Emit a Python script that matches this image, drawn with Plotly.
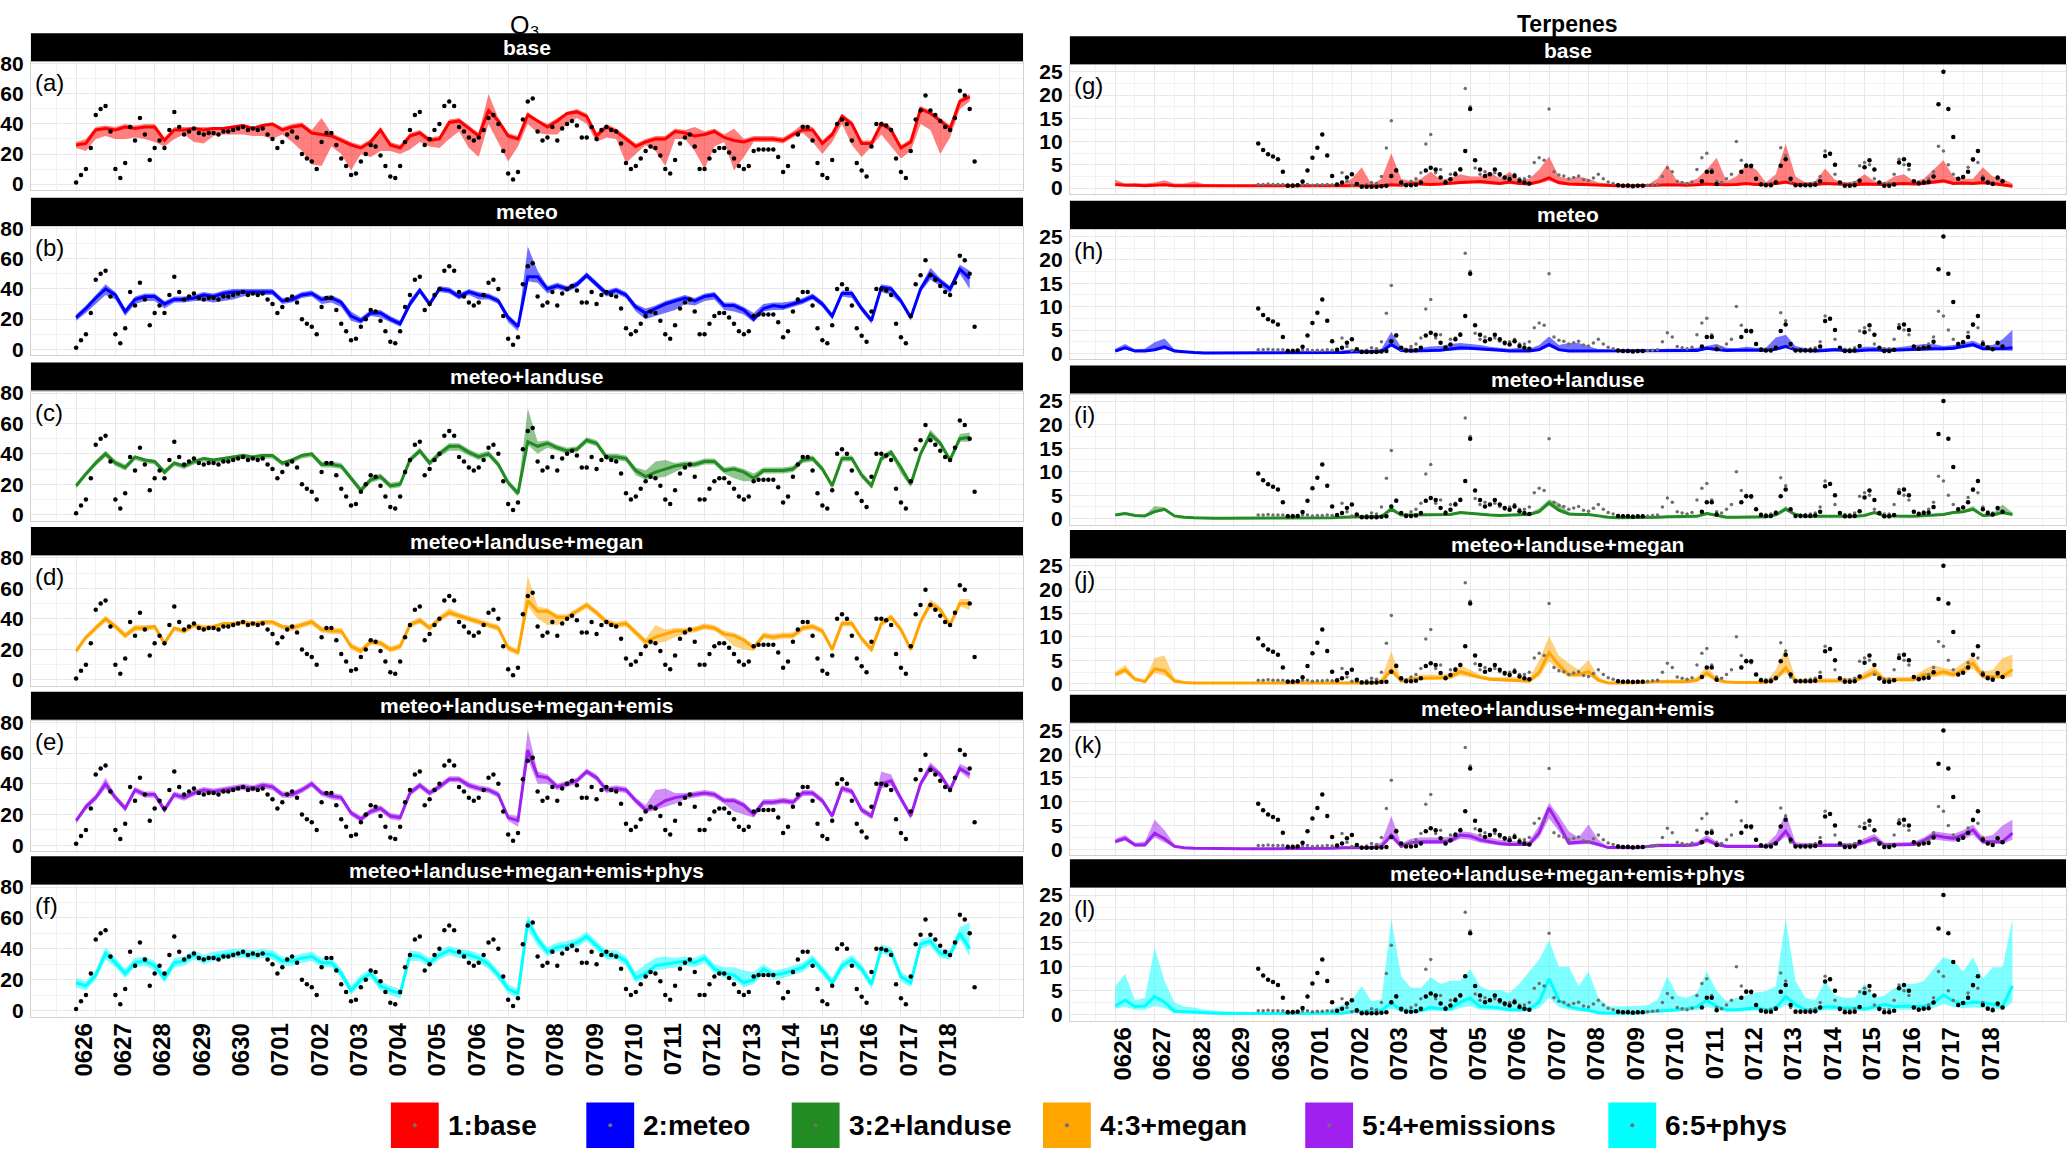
import plotly.graph_objects as go
import pandas as pd

W, H = 2067, 1154

# ---------------- observations (every 3 h from 0626 00:00) ----------------
o3_obs = [
    1, 6, 10, 24, 46, 50, 52, 35, 10, 4, 14, 38, 29, 44, 33, 16,
    24, 29, 24, 36, 48, 38, 33, 35, 37, 34, 33, 34, 34, 33, 35, 35,
    36, 37, 38, 36, 37, 36, 37, 33, 30, 24, 28, 33, 35, 31, 20, 17,
    15, 10, 28, 34, 34, 26, 17, 12, 6, 7, 15, 20, 26, 25, 19, 12,
    5, 4, 12, 28, 36, 46, 48, 26, 30, 36, 40, 52, 55, 52, 38, 35,
    31, 29, 31, 36, 44, 46, 40, 22, 7, 3, 8, 43, 55, 57, 35, 29,
    31, 38, 29, 37, 40, 42, 39, 31, 31, 38, 30, 36, 38, 36, 35, 27,
    14, 10, 12, 17, 22, 25, 24, 19, 10, 7, 16, 27, 31, 33, 25, 10,
    10, 17, 22, 24, 24, 21, 17, 12, 10, 12, 22, 23, 23, 23, 23, 18,
    8, 12, 25, 33, 38, 38, 29, 14, 6, 4, 16, 40, 43, 40, 29, 14,
    9, 5, 25, 40, 40, 39, 36, 17, 8, 4, 22, 43, 49, 59, 49, 46,
    42, 38, 36, 44, 62, 59, 50, 15,
]
N = None
terp_obs = [
    N, N, N, N, N, N, N, N, N, N, N, N, N, N, N, N,
    N, N, N, N, N, N, N, N, N, N, N, N, N, 9.6, 8.2, 7.3,
    6.8, 6.2, 3.5, 0.5, 0.5, 0.6, 1.4, 3.8, 6.5, 8.7, 11.5, 7.0, 2.6, 0.8, 1.2, 2.3,
    3.0, 0.9, 0.3, 0.3, 0.3, 0.3, 0.4, 0.5, 2.6, 3.8, 1.2, 0.6, 0.6, 0.7, 1.2, 3.8,
    4.4, 4.0, 2.3, 1.2, 1.9, 3.0, 4.0, 8.0, 17.0, 6.0, 4.0, 2.6, 3.0, 4.0, 3.0, 2.3,
    1.9, 2.6, 1.6, 1.2, 1.0, N, N, N, N, N, N, N, N, N, N, N,
    N, N, N, N, N, N, 0.6, 0.5, 0.5, 0.4, 0.5, 0.5, N, N, N, N,
    N, N, N, N, N, N, N, 1.5, 3.5, 3.5, 0.9, N, N, N, N, 3.5,
    4.8, 4.8, 2.0, 0.8, 0.6, 0.6, 1.2, 4.8, 6.2, 2.0, 0.6, 0.6, 0.6, 0.6, 0.7, 1.5,
    6.9, 7.4, 5.0, 1.2, 0.5, 0.5, 0.6, 1.6, 4.5, 6.0, 4.0, 1.2, 0.5, 0.5, 0.8, 5.5,
    6.2, 5.0, 1.5, 1.0, 1.2, 1.3, 2.5, 18.0, 25.0, 17.0, 11.0, 2.0, 2.4, 3.5, 6.2, 8.0,
    2.0, 1.2, 0.9, 2.3, 1.5, N, N, N,
]
terp_obs2 = [
    N, N, N, N, N, N, N, N, N, N, N, N, N, N, N, N,
    N, N, N, N, N, N, N, N, N, N, N, N, N, 0.8, 0.8, 0.9,
    0.8, 0.8, 0.8, 0.7, 0.7, 0.7, 0.8, 0.8, 0.6, 0.7, 0.7, 0.8, 0.7, 0.7, 3.3, 1.5,
    0.6, 0.6, 0.5, 0.7, 1.2, 1.0, 2.5, 8.6, 14.5, 4.0, 0.9, 0.9, 1.5, 2.0, 3.3, 9.5,
    11.5, 3.3, 4.0, 1.5, 3.0, 3.3, 4.2, 21.4, 17.5, 4.3, 3.0, 3.5, 3.0, 3.3, 2.6, 2.0,
    2.5, 3.0, 2.0, 2.0, 2.5, 5.5, 6.5, 6.0, 17.0, 3.5, 2.8, 2.6, 2.0, 2.3, 2.6, 1.8,
    1.6, 2.2, 3.0, 2.0, 1.3, 1.0, 0.7, 0.6, 0.7, 0.6, 0.6, 0.6, 0.6, 0.7, 0.8, 2.5,
    4.4, 3.5, 1.5, 1.2, 1.0, 1.3, 4.0, 6.5, 7.5, 4.0, 1.5, 1.2, 2.0, 3.0, 10.0, 6.0,
    5.0, 4.5, 2.0, 1.0, 0.9, 1.0, 1.5, 8.7, 7.0, 1.5, 0.8, 0.8, 0.9, 1.0, 1.2, 2.5,
    8.0, 7.5, 3.0, 1.0, 0.9, 0.9, 1.2, 4.8, 5.5, 5.0, 2.0, 1.0, 1.0, 1.0, 3.0, 6.2,
    5.0, 4.0, 1.5, 1.2, 1.5, 2.0, 3.5, 9.0, 8.0, 5.0, 3.0, 2.0, 2.5, 4.5, 6.0, 5.5,
    2.5, 1.5, 1.2, 2.0, N, N, N, N,
]

# ---------------- O3 model runs (every 6 h): central run, ensemble min, max ----------------
o3_a = [26, 27, 36, 37, 36, 38, 37, 38, 38, 29, 36, 36, 37, 36, 37, 37,
        38, 39, 37, 39, 40, 36, 38, 39, 34, 33, 32, 29, 26, 24, 28, 36,
        26, 24, 32, 34, 29, 30, 41, 42, 37, 32, 49, 42, 32, 30, 46, 42,
        38, 42, 47, 48, 45, 32, 38, 35, 30, 25, 28, 30, 30, 35, 34, 32,
        33, 35, 31, 29, 28, 30, 30, 30, 29, 33, 36, 36, 27, 33, 45, 40,
        27, 27, 40, 36, 24, 28, 50, 47, 42, 37, 55, 58]
o3_a_lo = [24, 22, 30, 32, 30, 30, 31, 30, 28, 25, 30, 33, 28, 27, 32, 33,
           33, 33, 32, 32, 30, 33, 28, 22, 13, 12, 25, 20, 9, 20, 18, 22,
           22, 20, 23, 28, 25, 24, 30, 35, 24, 18, 40, 28, 15, 25, 40, 34,
           33, 33, 40, 44, 40, 28, 31, 30, 14, 20, 26, 22, 12, 30, 30, 22,
           10, 25, 28, 9, 18, 28, 28, 28, 27, 31, 34, 28, 20, 28, 40, 26,
           18, 25, 33, 25, 17, 22, 40, 36, 20, 31, 50, 55]
o3_a_hi = [28, 30, 38, 39, 38, 40, 39, 40, 40, 31, 38, 38, 38, 38, 38, 38,
           39, 40, 38, 40, 41, 38, 40, 41, 36, 44, 34, 31, 28, 26, 30, 38,
           28, 26, 34, 36, 31, 32, 43, 44, 39, 34, 60, 44, 34, 32, 48, 43,
           40, 44, 48, 50, 47, 34, 40, 37, 32, 27, 30, 32, 32, 37, 36, 38,
           35, 37, 33, 37, 30, 32, 32, 32, 31, 35, 40, 38, 29, 35, 47, 42,
           29, 29, 42, 38, 26, 30, 52, 49, 44, 39, 57, 60]

o3_b = [21, 27, 34, 40, 36, 25, 33, 35, 35, 30, 33, 33, 34, 36, 35, 37,
        38, 38, 38, 38, 38, 32, 33, 36, 37, 33, 34, 31, 22, 19, 24, 24,
        20, 17, 30, 39, 30, 40, 39, 35, 38, 36, 35, 32, 21, 15, 48, 48,
        40, 42, 40, 43, 49, 43, 37, 39, 36, 28, 24, 27, 30, 32, 34, 32,
        35, 36, 29, 29, 26, 20, 27, 29, 28, 30, 32, 35, 30, 22, 37, 37,
        27, 19, 41, 40, 32, 21, 40, 50, 45, 40, 53, 47]
o3_b_lo = [19, 24, 30, 36, 33, 22, 30, 32, 32, 27, 31, 31, 32, 32, 31, 32,
           33, 35, 36, 36, 36, 30, 31, 34, 35, 30, 31, 28, 19, 17, 22, 21,
           18, 15, 28, 37, 28, 38, 37, 33, 36, 33, 33, 30, 18, 12, 45, 44,
           37, 40, 38, 41, 47, 41, 35, 37, 34, 25, 20, 22, 24, 26, 30, 29,
           32, 33, 26, 25, 23, 18, 25, 26, 26, 28, 30, 33, 28, 20, 35, 34,
           25, 17, 38, 36, 30, 19, 38, 46, 42, 37, 50, 40]
o3_b_hi = [23, 29, 36, 43, 38, 27, 35, 37, 37, 32, 35, 35, 36, 38, 37, 39,
           40, 40, 40, 40, 40, 34, 35, 38, 39, 35, 36, 33, 25, 21, 26, 26,
           22, 19, 33, 41, 32, 42, 41, 37, 40, 38, 37, 34, 23, 17, 68, 52,
           42, 44, 42, 45, 51, 45, 39, 41, 38, 30, 27, 29, 32, 34, 36, 34,
           37, 38, 31, 31, 28, 24, 30, 31, 31, 32, 34, 37, 32, 24, 39, 39,
           29, 21, 43, 42, 34, 23, 42, 54, 47, 42, 56, 52]

o3_c = [19, 27, 34, 40, 34, 31, 38, 36, 35, 28, 34, 32, 35, 37, 36, 37,
        38, 39, 38, 39, 39, 34, 36, 39, 40, 33, 33, 32, 24, 16, 23, 25,
        19, 20, 36, 42, 34, 40, 45, 45, 41, 38, 40, 33, 21, 14, 48, 45,
        47, 44, 42, 43, 49, 47, 38, 38, 37, 29, 25, 28, 30, 32, 33, 33,
        35, 35, 29, 30, 28, 24, 29, 29, 29, 30, 36, 37, 30, 19, 37, 37,
        26, 19, 37, 41, 31, 20, 40, 53, 47, 36, 50, 51]
o3_c_lo = [17, 25, 32, 38, 32, 29, 36, 34, 33, 26, 32, 30, 33, 35, 34, 35,
           36, 37, 36, 37, 37, 32, 34, 37, 38, 31, 31, 30, 22, 14, 21, 23,
           17, 18, 34, 40, 32, 38, 42, 42, 39, 36, 38, 31, 19, 12, 46, 40,
           44, 42, 40, 41, 47, 45, 36, 36, 35, 26, 23, 24, 25, 28, 31, 31,
           33, 33, 27, 24, 22, 22, 27, 27, 27, 28, 34, 35, 28, 17, 35, 35,
           24, 17, 35, 39, 27, 18, 38, 51, 45, 34, 48, 48]
o3_c_hi = [20, 28, 36, 42, 36, 33, 39, 37, 36, 30, 35, 33, 36, 38, 37, 38,
           39, 40, 39, 40, 40, 35, 37, 40, 41, 35, 35, 34, 26, 18, 25, 27,
           21, 22, 38, 44, 36, 42, 47, 47, 43, 40, 42, 35, 23, 16, 70, 48,
           49, 46, 44, 45, 51, 49, 40, 40, 39, 31, 29, 35, 36, 34, 35, 35,
           37, 37, 31, 32, 30, 27, 31, 31, 31, 32, 38, 39, 32, 21, 39, 39,
           28, 21, 39, 43, 33, 22, 42, 56, 49, 38, 53, 54]

o3_d = [19, 28, 34, 40, 35, 29, 34, 34, 35, 24, 34, 32, 36, 34, 35, 37,
        37, 38, 37, 38, 38, 35, 34, 36, 38, 33, 32, 32, 22, 19, 25, 24,
        20, 22, 36, 39, 34, 40, 44, 42, 40, 38, 36, 34, 21, 18, 52, 45,
        45, 41, 41, 45, 49, 44, 38, 36, 37, 31, 25, 28, 30, 32, 32, 33,
        35, 34, 30, 29, 26, 21, 29, 28, 29, 29, 34, 35, 32, 20, 37, 37,
        27, 20, 37, 41, 33, 20, 38, 50, 46, 36, 50, 50]
o3_d_lo = [17, 26, 32, 38, 33, 27, 32, 32, 33, 22, 32, 30, 34, 32, 33, 35,
           35, 36, 35, 36, 36, 33, 32, 34, 36, 31, 30, 30, 20, 17, 23, 22,
           18, 20, 34, 37, 32, 38, 42, 40, 38, 36, 34, 32, 19, 16, 48, 40,
           36, 36, 39, 43, 47, 42, 36, 34, 35, 29, 22, 24, 25, 28, 30, 31,
           33, 32, 28, 22, 20, 19, 27, 26, 27, 27, 32, 33, 30, 18, 35, 35,
           25, 18, 35, 39, 31, 18, 36, 47, 44, 34, 48, 46]
o3_d_hi = [20, 29, 36, 42, 37, 31, 36, 36, 36, 26, 35, 33, 37, 36, 36, 38,
           38, 39, 38, 39, 39, 36, 36, 38, 40, 35, 34, 34, 24, 21, 27, 26,
           22, 24, 38, 41, 36, 42, 47, 44, 42, 40, 38, 36, 23, 20, 68, 48,
           47, 43, 43, 47, 51, 46, 40, 38, 39, 33, 27, 36, 33, 34, 34, 35,
           37, 36, 32, 31, 28, 23, 31, 30, 31, 31, 36, 37, 34, 22, 39, 39,
           29, 22, 39, 43, 35, 22, 40, 53, 48, 38, 53, 53]

o3_e = [16, 25, 31, 40, 31, 24, 36, 33, 33, 23, 33, 31, 34, 36, 35, 36,
        37, 38, 37, 39, 38, 33, 33, 36, 40, 34, 32, 31, 21, 17, 22, 24,
        19, 18, 34, 39, 34, 38, 43, 43, 39, 37, 36, 33, 18, 16, 62, 45,
        44, 38, 40, 42, 48, 44, 36, 37, 36, 29, 23, 25, 29, 31, 32, 33,
        34, 33, 29, 29, 26, 20, 28, 28, 29, 28, 34, 34, 29, 19, 37, 35,
        23, 19, 40, 42, 30, 19, 40, 51, 46, 36, 50, 46]
o3_e_lo = [14, 23, 29, 37, 29, 22, 34, 31, 31, 21, 31, 29, 32, 34, 33, 34,
           35, 36, 35, 37, 36, 31, 31, 34, 38, 32, 30, 29, 19, 15, 20, 22,
           17, 16, 32, 37, 32, 36, 41, 41, 37, 35, 34, 31, 16, 12, 56, 40,
           40, 36, 38, 40, 46, 42, 34, 35, 34, 27, 21, 23, 25, 27, 30, 31,
           32, 31, 27, 22, 20, 18, 26, 26, 27, 26, 32, 32, 27, 17, 35, 33,
           21, 17, 37, 39, 28, 17, 38, 48, 44, 34, 48, 43]
o3_e_hi = [17, 27, 33, 44, 33, 26, 38, 35, 35, 25, 35, 33, 36, 38, 37, 38,
           39, 40, 39, 41, 40, 35, 35, 38, 42, 36, 34, 33, 23, 19, 24, 26,
           21, 20, 36, 41, 36, 40, 45, 45, 41, 39, 38, 35, 20, 19, 75, 48,
           46, 40, 42, 44, 50, 46, 38, 39, 38, 31, 26, 36, 37, 34, 34, 35,
           36, 35, 31, 31, 28, 22, 30, 30, 31, 30, 36, 36, 31, 21, 39, 37,
           25, 21, 48, 46, 32, 21, 42, 54, 48, 38, 53, 50]

o3_f = [18, 16, 23, 37, 31, 24, 31, 32, 29, 21, 31, 32, 36, 33, 35, 36,
        37, 37, 36, 37, 36, 32, 32, 34, 35, 31, 31, 24, 13, 20, 24, 16,
        13, 11, 36, 35, 31, 36, 39, 37, 36, 34, 30, 23, 14, 11, 58, 46,
        38, 41, 42, 44, 48, 42, 36, 36, 32, 21, 24, 29, 30, 31, 32, 31,
        34, 27, 24, 23, 18, 20, 27, 23, 24, 26, 28, 33, 26, 18, 29, 33,
        27, 17, 40, 38, 22, 18, 43, 45, 37, 36, 50, 40]
o3_f_lo = [15, 13, 20, 33, 28, 21, 28, 29, 26, 18, 28, 29, 33, 30, 32, 33,
           34, 34, 33, 34, 33, 29, 29, 31, 32, 28, 28, 21, 10, 17, 21, 13,
           10, 8, 32, 32, 28, 33, 36, 34, 33, 31, 27, 20, 11, 8, 52, 42,
           35, 38, 39, 41, 45, 39, 33, 33, 29, 18, 21, 26, 27, 28, 29, 28,
           31, 24, 21, 20, 15, 17, 24, 20, 21, 23, 25, 30, 23, 15, 26, 30,
           24, 14, 37, 35, 19, 15, 40, 42, 34, 33, 46, 35]
o3_f_hi = [21, 19, 26, 41, 34, 27, 34, 35, 32, 24, 34, 35, 39, 36, 38, 39,
           40, 40, 39, 40, 39, 35, 35, 37, 38, 34, 34, 27, 16, 23, 27, 19,
           16, 14, 39, 38, 34, 39, 42, 40, 39, 37, 33, 26, 17, 14, 62, 49,
           41, 44, 45, 47, 51, 45, 39, 39, 35, 25, 30, 34, 35, 34, 35, 34,
           37, 30, 28, 28, 26, 25, 30, 26, 27, 29, 31, 36, 29, 21, 32, 36,
           30, 20, 43, 41, 25, 21, 46, 48, 40, 39, 54, 57]

# ---------------- Terpene model runs (every 6 h) ----------------
tp_g = [0.8, 0.6, 0.6, 0.5, 0.6, 0.7, 0.5, 0.5, 0.4, 0.5, 0.4, 0.4, 0.4, 0.4, 0.4, 0.35,
        0.35, 0.35, 0.35, 0.35, 0.35, 0.35, 0.4, 0.4, 0.5, 0.5, 0.4, 0.5, 0.7, 0.6, 1.0, 0.9,
        0.8, 0.9, 1.1, 1.2, 1.3, 1.4, 1.2, 1.0, 1.3, 1.0, 0.9, 1.4, 2.2, 1.2, 0.9, 0.8,
        0.7, 0.6, 0.6, 0.5, 0.5, 0.5, 0.5, 0.6, 0.7, 0.6, 0.6, 0.7, 0.9, 0.8, 0.7, 0.8,
        1.0, 0.8, 0.8, 1.0, 1.3, 0.9, 0.8, 0.8, 1.0, 0.9, 0.7, 0.7, 0.9, 0.8, 0.8, 0.9,
        1.0, 0.9, 1.0, 1.3, 1.6, 1.0, 1.1, 1.0, 1.2, 1.0, 0.7, 0.4]
tp_g_lo = [0.5, 0.4, 0.4, 0.3, 0.4, 0.5, 0.3, 0.3, 0.3, 0.3, 0.3, 0.3, 0.3, 0.3, 0.3, 0.25,
           0.25, 0.25, 0.25, 0.25, 0.25, 0.25, 0.3, 0.3, 0.3, 0.3, 0.3, 0.3, 0.4, 0.4, 0.7, 0.6,
           0.5, 0.6, 0.8, 0.9, 1.0, 1.0, 0.8, 0.7, 0.9, 0.7, 0.6, 1.0, 1.6, 0.8, 0.6, 0.5,
           0.5, 0.4, 0.4, 0.3, 0.3, 0.3, 0.3, 0.4, 0.5, 0.4, 0.4, 0.5, 0.6, 0.5, 0.5, 0.5,
           0.7, 0.5, 0.5, 0.7, 0.9, 0.6, 0.5, 0.5, 0.7, 0.6, 0.5, 0.5, 0.6, 0.5, 0.5, 0.6,
           0.7, 0.6, 0.7, 0.9, 1.1, 0.7, 0.8, 0.7, 0.8, 0.7, 0.4, 0.2]
tp_g_hi = [1.8, 1.0, 1.1, 1.0, 1.2, 1.7, 1.0, 1.0, 1.4, 0.9, 0.8, 0.7, 0.6, 0.6, 0.6, 0.5,
           0.5, 0.5, 0.5, 0.6, 0.6, 0.6, 0.7, 0.9, 2.0, 4.5, 0.8, 2.0, 7.5, 2.0, 1.5, 2.0,
           3.5, 1.8, 2.2, 3.0, 2.5, 2.5, 3.5, 2.0, 3.5, 1.8, 2.0, 4.0, 6.8, 2.5, 2.0, 2.5,
           2.0, 1.2, 1.0, 0.8, 0.7, 0.8, 0.8, 2.0, 5.0, 1.5, 1.2, 2.0, 4.0, 6.5, 1.5, 2.5,
           5.0, 4.0, 1.2, 3.0, 9.5, 2.5, 1.2, 1.5, 4.2, 1.8, 1.2, 1.5, 3.0, 1.5, 1.2, 2.5,
           3.0, 1.5, 2.0, 4.0, 6.0, 2.5, 2.0, 2.0, 4.5, 2.5, 2.0, 1.0]

tp_h = [0.5, 1.2, 0.5, 0.5, 0.8, 1.4, 0.5, 0.3, 0.2, 0.1, 0.1, 0.1, 0.1, 0.1, 0.1, 0.1,
        0.1, 0.1, 0.1, 0.1, 0.1, 0.1, 0.1, 0.2, 0.3, 0.3, 0.3, 0.4, 1.9, 0.6, 0.5, 0.5,
        0.6, 0.7, 1.0, 1.2, 1.1, 1.0, 0.9, 0.7, 0.5, 0.5, 0.5, 0.8, 1.9, 0.8, 0.5, 0.5,
        0.5, 0.5, 0.5, 0.5, 0.5, 0.5, 0.5, 0.5, 0.5, 0.5, 0.5, 0.6, 1.1, 0.8, 0.6, 0.7,
        0.7, 0.7, 0.7, 0.9, 1.5, 0.8, 0.6, 0.5, 0.6, 0.8, 0.6, 0.5, 0.7, 0.8, 0.6, 0.7,
        0.8, 0.9, 1.0, 1.0, 1.0, 1.1, 1.5, 1.9, 1.0, 1.0, 1.0, 1.2]
tp_h_lo = [0.3, 0.9, 0.3, 0.3, 0.5, 0.9, 0.3, 0.2, 0.1, 0.05, 0.05, 0.05, 0.05, 0.05, 0.05, 0.05,
           0.05, 0.05, 0.05, 0.05, 0.05, 0.05, 0.05, 0.1, 0.2, 0.2, 0.2, 0.3, 1.4, 0.4, 0.3, 0.3,
           0.4, 0.5, 0.7, 0.8, 0.8, 0.7, 0.6, 0.5, 0.3, 0.3, 0.3, 0.5, 1.4, 0.5, 0.3, 0.3,
           0.3, 0.3, 0.3, 0.3, 0.3, 0.3, 0.3, 0.3, 0.3, 0.3, 0.3, 0.4, 0.8, 0.5, 0.4, 0.5,
           0.5, 0.5, 0.5, 0.6, 1.1, 0.5, 0.4, 0.3, 0.4, 0.5, 0.4, 0.3, 0.5, 0.5, 0.4, 0.5,
           0.5, 0.6, 0.7, 0.7, 0.7, 0.8, 1.1, 1.4, 0.7, 0.7, 0.7, 0.5]
tp_h_hi = [1.0, 2.0, 0.9, 1.0, 2.4, 3.2, 0.9, 0.5, 0.4, 0.3, 0.2, 0.2, 0.2, 0.2, 0.2, 0.2,
           0.2, 0.2, 0.2, 0.2, 0.2, 0.3, 0.4, 0.7, 0.9, 0.8, 0.8, 1.0, 4.6, 1.3, 1.0, 1.2,
           1.5, 1.6, 2.0, 2.2, 2.0, 1.8, 1.4, 1.2, 1.0, 1.2, 1.0, 1.8, 3.6, 1.8, 2.2, 2.2,
           1.5, 0.9, 0.8, 0.7, 0.8, 0.8, 0.8, 0.9, 1.0, 1.0, 1.0, 1.2, 1.6, 2.0, 1.2, 1.1,
           1.4, 1.2, 1.2, 3.4, 4.0, 1.6, 1.1, 1.0, 1.1, 1.2, 1.0, 1.0, 1.4, 1.4, 1.2, 1.2,
           1.5, 1.7, 2.0, 2.0, 1.6, 1.8, 2.2, 2.7, 1.8, 1.8, 3.0, 5.0]

tp_i = [0.8, 1.1, 0.7, 0.6, 1.5, 2.0, 0.6, 0.3, 0.2, 0.1, 0.1, 0.1, 0.1, 0.1, 0.1, 0.1,
        0.1, 0.1, 0.1, 0.1, 0.1, 0.1, 0.2, 0.3, 0.35, 0.35, 0.35, 0.5, 2.0, 0.8, 0.8, 0.8,
        0.9, 0.8, 0.9, 1.3, 1.1, 0.9, 0.8, 0.7, 0.8, 0.8, 0.9, 1.5, 3.4, 1.8, 1.0, 0.9,
        0.9, 0.6, 0.3, 0.2, 0.2, 0.2, 0.2, 0.3, 0.4, 0.4, 0.4, 0.5, 1.1, 0.7, 0.3, 0.3,
        0.3, 0.3, 0.4, 0.8, 2.0, 0.9, 0.5, 0.5, 0.5, 0.5, 0.5, 0.5, 0.7, 1.3, 0.6, 0.5,
        0.5, 0.5, 0.6, 0.8, 0.9, 1.3, 1.5, 2.0, 0.7, 0.8, 1.3, 0.9]
tp_i_lo = [0.6, 0.9, 0.5, 0.4, 1.2, 1.7, 0.4, 0.2, 0.1, 0.05, 0.05, 0.05, 0.05, 0.05, 0.05, 0.05,
           0.05, 0.05, 0.05, 0.05, 0.05, 0.05, 0.1, 0.2, 0.25, 0.25, 0.25, 0.35, 1.7, 0.6, 0.6, 0.6,
           0.7, 0.6, 0.7, 1.0, 0.9, 0.7, 0.6, 0.5, 0.6, 0.6, 0.7, 1.2, 2.8, 1.4, 0.8, 0.7,
           0.7, 0.4, 0.2, 0.1, 0.1, 0.1, 0.1, 0.2, 0.3, 0.3, 0.3, 0.35, 0.9, 0.5, 0.2, 0.2,
           0.2, 0.2, 0.3, 0.6, 1.7, 0.7, 0.35, 0.35, 0.35, 0.35, 0.35, 0.35, 0.5, 1.1, 0.4, 0.35,
           0.35, 0.35, 0.4, 0.6, 0.7, 1.1, 1.3, 1.7, 0.5, 0.6, 1.0, 0.7]
tp_i_hi = [1.0, 1.4, 0.9, 0.8, 2.7, 2.4, 0.8, 0.4, 0.3, 0.2, 0.2, 0.2, 0.2, 0.2, 0.2, 0.2,
           0.2, 0.2, 0.2, 0.2, 0.2, 0.2, 0.3, 0.4, 0.5, 0.5, 0.5, 0.7, 2.7, 1.0, 1.0, 1.0,
           1.1, 1.0, 1.1, 1.6, 1.4, 1.1, 1.0, 0.9, 1.0, 1.0, 1.2, 2.2, 4.1, 3.4, 1.3, 1.1,
           1.1, 0.8, 0.4, 0.3, 0.3, 0.3, 0.3, 0.4, 0.5, 0.5, 0.5, 0.7, 1.4, 0.9, 0.4, 0.4,
           0.4, 0.4, 0.5, 1.1, 2.7, 1.1, 0.6, 0.6, 0.6, 0.6, 0.6, 0.6, 0.9, 1.6, 0.8, 0.6,
           0.7, 0.7, 0.8, 1.0, 1.1, 1.6, 1.8, 2.7, 0.9, 1.1, 3.0, 1.3]

tp_j = [2.0, 3.0, 1.0, 0.5, 3.2, 2.8, 0.6, 0.3, 0.2, 0.2, 0.2, 0.15, 0.1, 0.05, 0.05, 0.05,
        0.05, 0.05, 0.05, 0.05, 0.05, 0.05, 0.1, 0.2, 0.2, 0.2, 0.2, 0.5, 3.0, 0.6, 1.0, 1.2,
        1.2, 1.3, 1.5, 2.6, 2.0, 1.4, 1.0, 0.9, 0.9, 0.8, 0.6, 2.5, 6.6, 4.0, 2.0, 2.0,
        2.6, 0.8, 0.2, 0.2, 0.2, 0.2, 0.3, 0.5, 0.5, 0.5, 0.5, 0.8, 2.3, 0.8, 0.4, 0.3,
        0.3, 0.3, 0.3, 1.2, 3.4, 0.6, 0.6, 0.7, 0.7, 0.7, 0.7, 0.7, 1.5, 2.6, 0.9, 0.9,
        0.9, 0.9, 2.0, 2.0, 2.6, 2.0, 3.0, 4.4, 1.6, 1.6, 1.6, 3.0]
tp_j_lo = [1.5, 2.3, 0.7, 0.3, 2.3, 1.8, 0.4, 0.2, 0.1, 0.1, 0.1, 0.1, 0.05, 0.02, 0.02, 0.02,
           0.02, 0.02, 0.02, 0.02, 0.02, 0.02, 0.05, 0.1, 0.1, 0.1, 0.1, 0.3, 2.2, 0.4, 0.7, 0.8,
           0.8, 0.9, 1.0, 1.8, 1.4, 1.0, 0.7, 0.6, 0.6, 0.5, 0.4, 1.6, 4.8, 2.8, 1.4, 1.4,
           1.8, 0.5, 0.1, 0.1, 0.1, 0.1, 0.2, 0.3, 0.3, 0.3, 0.3, 0.5, 1.6, 0.5, 0.2, 0.2,
           0.2, 0.2, 0.2, 0.8, 2.4, 0.4, 0.4, 0.5, 0.5, 0.5, 0.5, 0.5, 1.0, 1.8, 0.6, 0.6,
           0.6, 0.6, 1.4, 1.4, 1.8, 1.4, 2.2, 3.2, 1.1, 1.1, 1.1, 1.6]
tp_j_hi = [2.6, 4.0, 1.5, 0.9, 5.5, 6.0, 1.2, 0.5, 0.3, 0.3, 0.3, 0.2, 0.15, 0.1, 0.1, 0.1,
           0.1, 0.1, 0.1, 0.1, 0.1, 0.1, 0.2, 0.4, 0.5, 0.4, 0.5, 1.2, 6.9, 1.0, 1.5, 2.0,
           2.0, 2.0, 2.2, 4.0, 3.0, 2.0, 1.5, 1.4, 1.5, 1.4, 1.2, 5.0, 10.1, 6.0, 4.4, 3.0,
           5.1, 1.5, 0.3, 0.3, 0.3, 0.4, 0.5, 0.8, 0.9, 0.9, 1.0, 1.5, 3.7, 1.3, 0.7, 0.6,
           0.6, 0.6, 0.6, 3.0, 7.6, 1.2, 1.0, 1.2, 1.2, 1.2, 1.2, 1.2, 2.5, 3.8, 1.4, 1.4,
           1.5, 1.6, 3.0, 4.0, 3.4, 3.0, 4.5, 5.9, 2.6, 3.0, 5.5, 6.2]

tp_k = [1.6, 2.3, 0.9, 0.9, 3.4, 2.2, 0.6, 0.3, 0.2, 0.15, 0.1, 0.1, 0.1, 0.1, 0.1, 0.1,
        0.1, 0.1, 0.1, 0.1, 0.1, 0.1, 0.2, 0.3, 0.35, 0.35, 0.35, 0.6, 3.0, 0.6, 1.4, 1.6,
        1.6, 1.6, 1.8, 3.0, 2.8, 2.0, 1.6, 1.2, 1.0, 1.0, 1.0, 3.5, 8.7, 5.2, 1.3, 1.5,
        1.6, 1.0, 0.35, 0.35, 0.35, 0.35, 0.6, 0.8, 0.8, 0.8, 0.8, 1.0, 2.0, 1.0, 0.6, 0.6,
        0.6, 0.6, 0.6, 1.4, 3.8, 0.8, 0.8, 0.8, 0.8, 0.8, 0.8, 0.8, 1.5, 2.3, 0.9, 0.9,
        0.9, 1.0, 1.8, 3.0, 2.6, 2.3, 3.0, 4.1, 1.6, 1.6, 1.6, 3.4]
tp_k_lo = [1.2, 1.8, 0.6, 0.6, 2.5, 1.5, 0.4, 0.2, 0.1, 0.1, 0.05, 0.05, 0.05, 0.05, 0.05, 0.05,
           0.05, 0.05, 0.05, 0.05, 0.05, 0.05, 0.1, 0.2, 0.2, 0.2, 0.2, 0.4, 2.2, 0.4, 1.0, 1.1,
           1.1, 1.1, 1.3, 2.2, 2.0, 1.4, 1.1, 0.8, 0.7, 0.7, 0.7, 2.5, 6.5, 3.8, 0.9, 1.0,
           1.1, 0.7, 0.2, 0.2, 0.2, 0.2, 0.4, 0.5, 0.5, 0.5, 0.5, 0.7, 1.4, 0.7, 0.4, 0.4,
           0.4, 0.4, 0.4, 1.0, 2.7, 0.5, 0.5, 0.5, 0.5, 0.5, 0.5, 0.5, 1.0, 1.6, 0.6, 0.6,
           0.6, 0.7, 1.2, 2.1, 1.8, 1.6, 2.1, 3.0, 1.1, 1.1, 1.1, 2.0]
tp_k_hi = [2.2, 3.0, 1.4, 1.6, 6.2, 4.0, 1.0, 0.5, 0.3, 0.2, 0.15, 0.15, 0.15, 0.15, 0.15, 0.15,
           0.15, 0.15, 0.15, 0.15, 0.15, 0.2, 0.4, 0.6, 0.7, 0.7, 0.7, 1.5, 7.0, 1.2, 2.2, 2.5,
           2.5, 2.5, 2.7, 3.8, 3.6, 3.0, 2.4, 2.0, 1.8, 1.6, 1.8, 5.0, 9.8, 7.0, 3.8, 2.5,
           5.2, 2.0, 0.5, 0.5, 0.5, 0.6, 0.9, 1.2, 1.2, 1.2, 1.2, 1.6, 3.0, 1.6, 1.0, 1.0,
           1.0, 1.0, 1.0, 3.0, 7.7, 1.5, 1.3, 1.3, 1.3, 1.3, 1.3, 1.3, 2.3, 3.2, 1.4, 1.4,
           1.5, 1.6, 2.5, 3.8, 3.5, 3.2, 4.0, 5.2, 2.6, 3.0, 5.0, 6.2]

tp_l = [1.8, 3.0, 1.7, 1.8, 3.8, 2.6, 0.7, 0.6, 0.4, 0.3, 0.2, 0.2, 0.2, 0.2, 0.2, 0.2,
        0.2, 0.2, 0.2, 0.3, 0.3, 0.3, 0.3, 0.3, 0.6, 0.7, 0.7, 0.9, 2.4, 1.0, 0.7, 0.8,
        1.5, 1.2, 1.2, 2.6, 3.4, 1.7, 1.6, 1.4, 1.0, 1.0, 1.2, 2.6, 7.5, 3.0, 1.7, 1.2,
        0.9, 0.4, 0.3, 0.3, 0.3, 0.3, 0.6, 0.7, 0.8, 1.0, 1.3, 1.6, 3.0, 1.7, 1.0, 1.0,
        1.2, 1.4, 1.0, 1.4, 3.8, 2.1, 1.0, 1.0, 1.6, 1.6, 1.4, 1.4, 1.2, 1.6, 2.1, 1.7,
        1.7, 1.7, 1.8, 2.4, 4.1, 2.8, 2.2, 2.6, 2.5, 2.1, 1.7, 6.0]
tp_l_lo = [1.2, 1.6, 1.0, 1.0, 1.8, 1.4, 0.3, 0.2, 0.1, 0.1, 0.05, 0.05, 0.05, 0.05, 0.05, 0.05,
           0.05, 0.05, 0.05, 0.1, 0.1, 0.1, 0.1, 0.2, 0.3, 0.4, 0.4, 0.5, 1.2, 0.6, 0.4, 0.5,
           0.8, 0.7, 0.7, 1.4, 1.8, 1.0, 0.9, 0.8, 0.6, 0.6, 0.7, 1.4, 3.5, 1.6, 1.0, 0.7,
           0.5, 0.2, 0.1, 0.1, 0.1, 0.1, 0.3, 0.4, 0.5, 0.6, 0.8, 0.9, 1.6, 1.0, 0.6, 0.6,
           0.7, 0.8, 0.6, 0.8, 2.0, 1.2, 0.6, 0.6, 0.9, 0.9, 0.8, 0.8, 0.7, 0.9, 1.2, 1.0,
           1.0, 1.0, 1.0, 1.4, 2.2, 1.6, 1.3, 1.5, 1.4, 1.2, 1.0, 2.5]
tp_l_hi = [6.0, 8.5, 3.0, 3.5, 14.0, 7.0, 2.5, 1.7, 1.5, 1.0, 0.8, 0.7, 0.6, 0.5, 0.4, 0.4,
           0.4, 0.4, 0.4, 0.5, 0.6, 0.7, 1.2, 2.0, 3.0, 6.0, 2.8, 3.2, 20.0, 8.0, 5.6, 5.6,
           7.8, 6.4, 7.1, 7.1, 9.5, 6.0, 5.0, 5.2, 4.5, 6.5, 9.0, 11.5, 15.5, 10.0, 10.0, 6.0,
           9.0, 3.5, 1.7, 1.7, 1.7, 1.8, 2.0, 3.0, 8.0, 4.0, 3.5, 4.5, 9.0, 5.0, 2.8, 3.5,
           4.0, 4.6, 4.9, 6.0, 20.0, 7.0, 3.5, 3.0, 7.0, 4.0, 3.5, 3.5, 6.4, 3.5, 4.0, 5.5,
           6.4, 6.4, 7.0, 9.5, 12.0, 11.3, 9.0, 12.0, 7.5, 9.9, 9.9, 20.0]

# ---------------- categories / labels ----------------
panel_titles = ['base', 'meteo', 'meteo+landuse', 'meteo+landuse+megan',
                'meteo+landuse+megan+emis', 'meteo+landuse+megan+emis+phys']
o3_tags = ['(a)', '(b)', '(c)', '(d)', '(e)', '(f)']
tp_tags = ['(g)', '(h)', '(i)', '(j)', '(k)', '(l)']
run_names = ['1:base', '2:meteo', '3:2+landuse', '4:3+megan', '5:4+emissions', '6:5+phys']
run_colors = ['#ff0000', '#0000ff', '#228b22', '#ffa500', '#a020f0', '#00ffff']
band_colors = ['rgba(255,0,0,0.5)', 'rgba(0,0,255,0.55)', 'rgba(34,139,34,0.5)',
               'rgba(255,165,0,0.5)', 'rgba(160,32,240,0.5)', 'rgba(0,255,255,0.5)']

o3_runs = [(o3_a, o3_a_lo, o3_a_hi), (o3_b, o3_b_lo, o3_b_hi), (o3_c, o3_c_lo, o3_c_hi),
           (o3_d, o3_d_lo, o3_d_hi), (o3_e, o3_e_lo, o3_e_hi), (o3_f, o3_f_lo, o3_f_hi)]
tp_runs = [(tp_g, tp_g_lo, tp_g_hi), (tp_h, tp_h_lo, tp_h_hi), (tp_i, tp_i_lo, tp_i_hi),
           (tp_j, tp_j_lo, tp_j_hi), (tp_k, tp_k_lo, tp_k_hi), (tp_l, tp_l_lo, tp_l_hi)]

t_obs = pd.date_range('2019-06-26 00:00', periods=184, freq='3h')
t_mod = pd.date_range('2019-06-26 00:00', periods=92, freq='6h')
assert len(o3_obs) == 184 and len(terp_obs) == 184 and len(terp_obs2) == 184
for r in o3_runs + tp_runs:
    for s in r:
        assert len(s) == 92, len(s)

day_ticks = pd.date_range('2019-06-26', '2019-07-18', freq='D')
day_text = [d.strftime('%m%d') for d in day_ticks]
x_range = ['2019-06-24 20:24', '2019-07-20 02:36']

SANS = 'Liberation Sans, Arial, sans-serif'


def fx(p):
    return p / W


def fy(p):
    return 1 - p / H


fig = go.Figure()
shapes, annots = [], []
STRIP_PITCH = 166.8   # strip tops
PLOT_PITCH = 167.5    # plot bottoms
STRIP_H = 28.5
cols = [
    dict(x0=25, x1=1020, top=23.5, pbot=182.3, runs=o3_runs, tags=o3_tags,
         yr=[-3.9, 81], yt=[0, 20, 40, 60, 80], ym=10),
    dict(x0=1067, x1=2066, top=26.5, pbot=186.4, runs=tp_runs, tags=tp_tags,
         yr=[-1.26, 26.4], yt=[0, 5, 10, 15, 20, 25], ym=2.5),
]

n = 0
for c, col in enumerate(cols):
    for k in range(6):
        n += 1
        xa = 'x' if n == 1 else 'x%d' % n
        ya = 'y' if n == 1 else 'y%d' % n
        s_top = col['top'] + STRIP_PITCH * k
        s_bot = s_top + STRIP_H
        p_top = s_bot + 1
        p_bot = col['pbot'] + PLOT_PITCH * k

        line, lo, hi = col['runs'][k]
        fig.add_trace(go.Scatter(x=t_mod, y=lo, mode='lines', line=dict(width=0),
                                 xaxis=xa, yaxis=ya, showlegend=False, hoverinfo='skip'))
        fig.add_trace(go.Scatter(x=t_mod, y=hi, mode='lines', line=dict(width=0),
                                 fill='tonexty', fillcolor=band_colors[k],
                                 xaxis=xa, yaxis=ya, showlegend=False, hoverinfo='skip'))
        fig.add_trace(go.Scatter(x=t_mod, y=line, mode='lines',
                                 line=dict(color=run_colors[k], width=3),
                                 xaxis=xa, yaxis=ya, showlegend=False))
        if c == 0:
            fig.add_trace(go.Scatter(x=t_obs, y=o3_obs, mode='markers',
                                     marker=dict(color='black', size=4.5),
                                     xaxis=xa, yaxis=ya, showlegend=False))
        else:
            fig.add_trace(go.Scatter(x=t_obs, y=terp_obs2, mode='markers',
                                     marker=dict(color='#6e6e6e', size=3.5),
                                     xaxis=xa, yaxis=ya, showlegend=False))
            fig.add_trace(go.Scatter(x=t_obs, y=terp_obs, mode='markers',
                                     marker=dict(color='black', size=4.5),
                                     xaxis=xa, yaxis=ya, showlegend=False))

        bottom = (k == 5)
        fig.layout['xaxis' if n == 1 else 'xaxis%d' % n] = dict(
            domain=[fx(col['x0']), fx(col['x1'])], anchor=ya, type='date', range=x_range,
            tickmode='array', tickvals=day_ticks, ticktext=day_text,
            showticklabels=bottom, tickangle=-90, ticks='', ticklabelshift=8,
            ticklabelstandoff=-4,
            tickfont=dict(family=SANS, size=24, color='black', weight='bold'),
            showgrid=True, gridcolor='#e8e8e8', gridwidth=1.3,
            minor=dict(tickmode='linear', tick0='2019-06-26 12:00', dtick=43200000 * 2,
                       showgrid=True, gridcolor='#f2f2f2', gridwidth=1),
            showline=True, mirror=True, linecolor='#d0d0d0', linewidth=1,
            zeroline=False, fixedrange=True)
        fig.layout['yaxis' if n == 1 else 'yaxis%d' % n] = dict(
            domain=[fy(p_bot), fy(p_top)], anchor=xa, range=col['yr'],
            tickmode='array', tickvals=col['yt'], ticks='', ticklabelstandoff=2,
            tickfont=dict(family=SANS, size=21, color='black', weight='bold'),
            showgrid=True, gridcolor='#e8e8e8', gridwidth=1.3,
            minor=dict(tickmode='linear', tick0=col['ym'], dtick=col['ym'] * 2,
                       showgrid=True, gridcolor='#f2f2f2', gridwidth=1),
            showline=True, mirror=True, linecolor='#d0d0d0', linewidth=1,
            zeroline=False, fixedrange=True)

        # facet strip
        shapes.append(dict(type='rect', xref='paper', yref='paper',
                           x0=fx(col['x0']), x1=fx(col['x1']), y0=fy(s_bot), y1=fy(s_top),
                           fillcolor='black', line=dict(width=0), layer='above'))
        annots.append(dict(text=panel_titles[k], xref='paper', yref='paper',
                           x=fx((col['x0'] + col['x1']) / 2), y=fy((s_top + s_bot) / 2),
                           xanchor='center', yanchor='middle', showarrow=False,
                           font=dict(family=SANS, size=21, color='white', weight='bold')))
        annots.append(dict(text=col['tags'][k], xref='paper', yref='paper',
                           x=fx(col['x0'] + 2), y=fy(p_top + 5), xanchor='left', yanchor='top',
                           showarrow=False,
                           font=dict(family=SANS, size=24, color='black')))

# column titles above the first strips
annots.append(dict(text='O₃', xref='paper', yref='paper', x=fx(521), y=1,
                   xanchor='center', yanchor='top', showarrow=False, borderpad=0,
                   font=dict(family=SANS, size=25, color='black')))
annots.append(dict(text='Terpenes', xref='paper', yref='paper', x=fx(1566), y=1,
                   xanchor='center', yanchor='top', showarrow=False, borderpad=0,
                   font=dict(family=SANS, size=23, color='black', weight='bold')))

# legend drawn as boxes + labels
leg_x = [386, 582, 788, 1040, 1303, 1607]
for i, name in enumerate(run_names):
    x0 = leg_x[i]
    shapes.append(dict(type='rect', xref='paper', yref='paper',
                       x0=fx(x0), x1=fx(x0 + 48), y0=fy(1153), y1=fy(1107),
                       fillcolor=run_colors[i], line=dict(width=0)))
    shapes.append(dict(type='circle', xref='paper', yref='paper',
                       x0=fx(x0 + 22), x1=fx(x0 + 26), y0=fy(1132), y1=fy(1128),
                       fillcolor='#707070', line=dict(width=0)))
    annots.append(dict(text=name, xref='paper', yref='paper', x=fx(x0 + 55), y=fy(1130),
                       xanchor='left', yanchor='middle', showarrow=False,
                       font=dict(family=SANS, size=28, color='black', weight='bold')))

fig.update_layout(width=W, height=H, margin=dict(l=0, r=0, t=0, b=0),
                  paper_bgcolor='white', plot_bgcolor='white',
                  shapes=shapes, annotations=annots, showlegend=False)
# the page's default 8px body margin is dropped so the figure fills the window
fig.write_html("out.html", config={'displayModeBar': False},
               post_script="document.body.style.margin='0px';")
